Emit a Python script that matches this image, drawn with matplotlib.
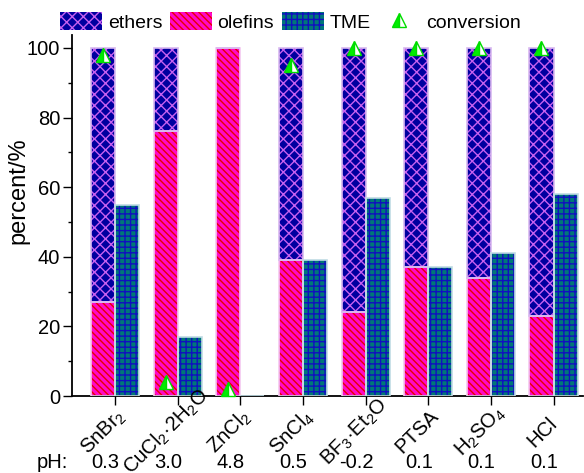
import numpy as np
import matplotlib
matplotlib.use("Agg")
import matplotlib.pyplot as plt
import matplotlib.transforms as mtransforms

plt.rcParams['font.family'] = ['Liberation Sans', 'DejaVu Sans']
plt.rcParams['mathtext.fontset'] = 'custom'
plt.rcParams['mathtext.rm'] = 'Liberation Sans'
plt.rcParams['mathtext.it'] = 'Liberation Sans'
plt.rcParams['hatch.linewidth'] = 1.0

# data
catalysts = ["SnBr$_2$", "CuCl$_2$·2H$_2$O", "ZnCl$_2$", "SnCl$_4$",
             "BF$_3$·Et$_2$O", "PTSA", "H$_2$SO$_4$", "HCl"]
ph = ["0.3", "3.0", "4.8", "0.5", "-0.2", "0.1", "0.1", "0.1"]
olefins = [27, 76, 100, 39, 24, 37, 34, 23]
ethers = [73, 24, 0, 61, 76, 63, 66, 77]
tme = [55, 17, 0, 39, 57, 37, 41, 58]
conversion = [98, 4, 2, 95, 100, 100, 100, 100]

x = np.arange(len(catalysts))
w = 0.385

fig = plt.figure(figsize=(5.84, 4.73), dpi=100)
ax = fig.add_axes([72/584, 1 - 396/473, 511/584, 361/473])

# stacked bar (olefins + ethers) left of tick, TME right of tick
b1 = ax.bar(x - w/2, olefins, w, color='#FF08C8', edgecolor='#E80000',
            linewidth=0, hatch='\\\\\\\\\\', label='olefins', zorder=2)
b2 = ax.bar(x - w/2, ethers, w, bottom=olefins, color='#0000A0',
            edgecolor='#C860F0', linewidth=0, hatch='xxx', label='ethers', zorder=2)
b3 = ax.bar(x + w/2, tme, w, color='#007878', edgecolor='#1010C0',
            linewidth=0, hatch='+++', label='TME', zorder=2)
# light outlines
ax.bar(x - w/2, olefins, w, fill=False, edgecolor='#F4C8F0', linewidth=1.2, zorder=3)
ax.bar(x - w/2, ethers, w, bottom=olefins, fill=False, edgecolor='#D8B8F0',
       linewidth=1.2, zorder=3)
ax.bar(x + w/2, tme, w, fill=False, edgecolor='#C0DCE4', linewidth=1.2, zorder=3)

conv, = ax.plot(x - w/2, conversion, linestyle='none', marker='^', markersize=10,
                color='#00EE00', markerfacecoloralt='white', fillstyle='left',
                markeredgecolor='#00DD00', markeredgewidth=1, clip_on=False,
                zorder=5, label='conversion')

ax.set_xlim(-0.687, 7.47)
ax.set_ylim(0, 103.7)
ax.set_yticks([0, 20, 40, 60, 80, 100])
ax.set_yticks([10, 30, 50, 70, 90], minor=True)
ax.set_xticks(x)
ax.set_xticklabels([''] * len(x))
# rotated category labels, centred a little below and left of each tick
lab_tr = ax.get_xaxis_transform() + mtransforms.ScaledTranslation(
    -11/100, -36/100, fig.dpi_scale_trans)
for xi, name in zip(x, catalysts):
    ax.text(xi, 0, name, transform=lab_tr, rotation=45, ha='center',
            va='center', rotation_mode='anchor', fontsize=14.5)
ax.tick_params(axis='y', labelsize=14.5, pad=2)
ax.tick_params(which='major', direction='out', length=6.5, width=1)
ax.tick_params(which='minor', direction='out', length=3.2, width=1)
for s in ['top', 'right']:
    ax.spines[s].set_visible(False)
for s in ['left', 'bottom']:
    ax.spines[s].set_linewidth(1.3)
ax.set_ylabel('percent/%', fontsize=17)
ax.yaxis.set_label_coords(-0.084, 0.57)

# pH row
row = mtransforms.blended_transform_factory(ax.transData, fig.transFigure)
fig.text(52/584, 1 - 462/473, 'pH:', fontsize=14.5, ha='center', va='center')
for xi, p in zip(x, ph):
    ax.text(xi - 0.15, 1 - 462/473, p, transform=row, fontsize=14.5,
            ha='center', va='center')

fig.legend([b2, b1, b3, conv], ['ethers', 'olefins', 'TME', 'conversion'],
           loc='center left', bbox_to_anchor=(60/584, 1 - 22/473), ncol=4,
           frameon=False, fontsize=14, handlelength=2.15, handleheight=1.0,
           handletextpad=0.3, columnspacing=0.4, borderpad=0, borderaxespad=0)

fig.savefig('out.png', dpi=100)
